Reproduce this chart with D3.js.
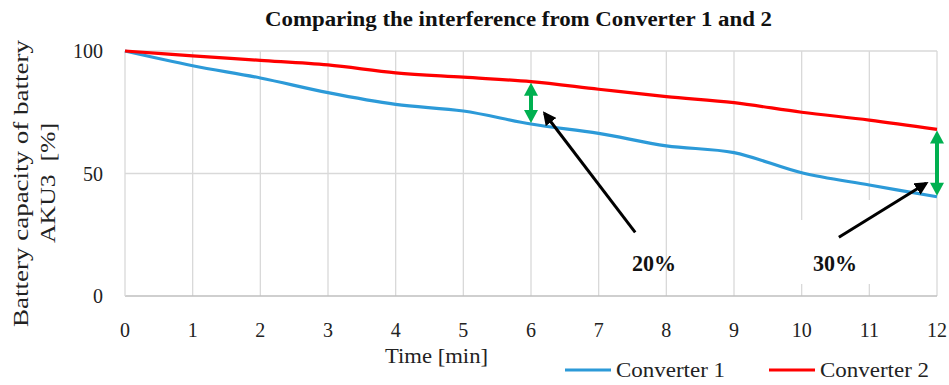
<!DOCTYPE html>
<html>
<head>
<meta charset="utf-8">
<script src="https://cdn.jsdelivr.net/npm/d3@7"></script>
<style>
  html, body { margin: 0; padding: 0; background: #fff; }
  svg { display: block; font-family: "Liberation Serif", "DejaVu Serif", serif; }
  text { white-space: pre; }
</style>
</head>
<body>
<svg id="chart" width="949" height="385"></svg>
<script>
// Battery discharge over time for two converters
const minutes = [0, 1, 2, 3, 4, 5, 6, 7, 8, 9, 10, 11, 12];
const converter1 = [100, 94, 89, 83, 78.2, 75.5, 70.2, 66.4, 61.3, 58.5, 50.3, 45.3, 40.5];
const converter2 = [100, 98, 96.2, 94.3, 91.1, 89.3, 87.5, 84.4, 81.4, 78.9, 75, 71.8, 68];
const yTicks = [0, 50, 100];
const seriesNames = ["Converter 1", "Converter 2"];
const seriesColors = ["#2c9ad8", "#ff0000"];
// Gaps marked on the chart: [minute, label]
const gaps = [[6, "20%"], [12, "30%"]];

const svg = d3.select("#chart");
const x = d3.scaleLinear().domain([0, 12]).range([125, 937]);
const y = d3.scaleLinear().domain([0, 100]).range([296, 51]);

// Gridlines
const grid = svg.append("g");
grid.selectAll("line.v").data(minutes.slice(1)).join("line")
  .attr("x1", d => x(d)).attr("x2", d => x(d))
  .attr("y1", y(0)).attr("y2", y(100))
  .attr("stroke", "#d9d9d9").attr("stroke-width", 1.3);
grid.selectAll("line.h").data(yTicks.slice(1)).join("line")
  .attr("x1", x(0)).attr("x2", x(12))
  .attr("y1", d => y(d)).attr("y2", d => y(d))
  .attr("stroke", "#d9d9d9").attr("stroke-width", 1.3);
// Axis lines
svg.append("line").attr("x1", x(0)).attr("x2", x(12)).attr("y1", y(0)).attr("y2", y(0))
  .attr("stroke", "#bfbfbf").attr("stroke-width", 1.5);
svg.append("line").attr("x1", x(0)).attr("x2", x(0)).attr("y1", y(0)).attr("y2", y(100))
  .attr("stroke", "#d9d9d9").attr("stroke-width", 1.3);

// Tick labels
svg.append("g").selectAll("text").data(yTicks).join("text")
  .attr("x", 103).attr("y", d => y(d) + 7)
  .attr("text-anchor", "end").attr("font-size", 20).attr("fill", "#222")
  .text(d => d);
svg.append("g").selectAll("text").data(minutes).join("text")
  .attr("x", d => x(d)).attr("y", 337)
  .attr("text-anchor", "middle").attr("font-size", 20).attr("fill", "#222")
  .text(d => d);

// Title and axis titles
svg.append("text").attr("x", 265).attr("y", 26)
  .attr("font-size", 20).attr("font-weight", "bold").attr("fill", "#111")
  .attr("textLength", 507).attr("lengthAdjust", "spacingAndGlyphs")
  .text("Comparing the interference from Converter 1 and 2");
svg.append("text").attr("x", 385).attr("y", 363)
  .attr("font-size", 21).attr("fill", "#222")
  .attr("textLength", 103).attr("lengthAdjust", "spacingAndGlyphs")
  .text("Time [min]");
const yTitle = svg.append("g").attr("transform", "rotate(-90)");
yTitle.append("text").attr("x", -327).attr("y", 28)
  .attr("font-size", 22).attr("fill", "#222")
  .attr("textLength", 287).attr("lengthAdjust", "spacingAndGlyphs")
  .text("Battery capacity of battery");
yTitle.append("text").attr("x", -243).attr("y", 55)
  .attr("font-size", 22).attr("fill", "#222")
  .attr("textLength", 120).attr("lengthAdjust", "spacingAndGlyphs")
  .text("AKU3  [%]");

// Series lines
const line = d3.line().x((d, i) => x(minutes[i])).y(d => y(d)).curve(d3.curveCatmullRom.alpha(0));
[converter1, converter2].forEach((s, k) => {
  svg.append("path").datum(s).attr("d", line)
    .attr("fill", "none").attr("stroke", seriesColors[k]).attr("stroke-width", 3.2);
});

// White backing behind the 30% callout
svg.append("rect").attr("x", 800).attr("y", 220).attr("width", 80).attr("height", 64).attr("fill", "#fff");
svg.append("rect").attr("x", 840).attr("y", 200).attr("width", 60).attr("height", 30).attr("fill", "#fff");

// Green double arrows showing the gap between the series
const green = "#00b050";
gaps.forEach(([m]) => {
  const i = minutes.indexOf(m);
  const cx = x(m), top = y(converter2[i]) + 1, bot = y(converter1[i]) - 1;
  const g = svg.append("g").attr("fill", green).attr("stroke", "none");
  g.append("rect").attr("x", cx - 2).attr("y", top + 10).attr("width", 4).attr("height", bot - top - 20);
  g.append("path").attr("d", `M${cx},${top} L${cx - 7},${top + 13} L${cx + 7},${top + 13} Z`);
  g.append("path").attr("d", `M${cx},${bot} L${cx - 7},${bot - 13} L${cx + 7},${bot - 13} Z`);
});

// Black pointer arrows with percentage labels
const pointers = [
  { from: [x(7.54), y(26)], to: [x(6.2), y(74.5)], label: [632, 271] },
  { from: [x(10.55), y(24)], to: [x(11.84), y(46)], label: [813, 271] }
];
svg.append("defs").append("marker").attr("id", "head")
  .attr("viewBox", "0 0 10 10").attr("refX", 8).attr("refY", 5)
  .attr("markerWidth", 4.5).attr("markerHeight", 4.5).attr("orient", "auto")
  .append("path").attr("d", "M0,0 L10,5 L0,10 Z").attr("fill", "#000");
pointers.forEach((p, k) => {
  svg.append("line").attr("x1", p.from[0]).attr("y1", p.from[1])
    .attr("x2", p.to[0]).attr("y2", p.to[1])
    .attr("stroke", "#000").attr("stroke-width", 3).attr("marker-end", "url(#head)");
  svg.append("text").attr("x", p.label[0]).attr("y", p.label[1])
    .attr("font-size", 24).attr("font-weight", "bold")
    .attr("textLength", 44).attr("lengthAdjust", "spacingAndGlyphs")
    .attr("fill", "#111").text(gaps[k][1]);
});

// Legend
const legend = [[565, 616], [769, 820]];
seriesNames.forEach((name, k) => {
  svg.append("line").attr("x1", legend[k][0]).attr("x2", legend[k][1] - 5)
    .attr("y1", 370).attr("y2", 370)
    .attr("stroke", seriesColors[k]).attr("stroke-width", 3.2);
  svg.append("text").attr("x", legend[k][1]).attr("y", 377)
    .attr("font-size", 21).attr("fill", "#222")
    .attr("textLength", 109).attr("lengthAdjust", "spacingAndGlyphs")
    .text(name);
});
</script>
</body>
</html>
